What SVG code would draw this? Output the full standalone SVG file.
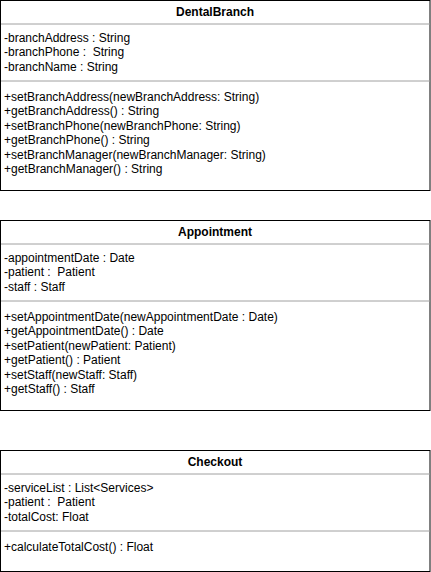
<svg xmlns="http://www.w3.org/2000/svg" width="431" height="572" viewBox="0 0 431 572">
<style>
.box{fill:#fff;stroke:#000;stroke-width:1}
.sep{stroke:#a0a0a0;stroke-width:1}
text{font-family:"Liberation Sans",Arial,sans-serif;font-size:12px;fill:#000}
.title{font-weight:bold;text-anchor:middle}
</style>
<rect width="431" height="572" fill="#fff"/>
<g id="DentalBranch">
<rect class="box" x="0.5" y="0.5" width="429.5" height="190"/>
<line class="sep" x1="1" y1="24" x2="430" y2="24"/>
<line class="sep" x1="1" y1="81" x2="430" y2="81"/>
<text class="title" x="215" y="16">DentalBranch</text>
<text x="4" y="42">-branchAddress : String</text>
<text x="4" y="56.4" xml:space="preserve">-branchPhone :  String</text>
<text x="4" y="70.8">-branchName : String</text>
<text x="4" y="101">+setBranchAddress(newBranchAddress: String)</text>
<text x="4" y="115.4">+getBranchAddress() : String</text>
<text x="4" y="129.8">+setBranchPhone(newBranchPhone: String)</text>
<text x="4" y="144.2">+getBranchPhone() : String</text>
<text x="4" y="158.6">+setBranchManager(newBranchManager: String)</text>
<text x="4" y="173">+getBranchManager() : String</text>
</g>
<g id="Appointment">
<rect class="box" x="0.5" y="220.5" width="429.5" height="190"/>
<line class="sep" x1="1" y1="244" x2="430" y2="244"/>
<line class="sep" x1="1" y1="301" x2="430" y2="301"/>
<text class="title" x="215" y="236">Appointment</text>
<text x="4" y="262">-appointmentDate : Date</text>
<text x="4" y="276.4" xml:space="preserve">-patient :  Patient</text>
<text x="4" y="290.8">-staff : Staff</text>
<text x="4" y="321">+setAppointmentDate(newAppointmentDate : Date)</text>
<text x="4" y="335.4">+getAppointmentDate() : Date</text>
<text x="4" y="349.8">+setPatient(newPatient: Patient)</text>
<text x="4" y="364.2">+getPatient() : Patient</text>
<text x="4" y="378.6">+setStaff(newStaff: Staff)</text>
<text x="4" y="393">+getStaff() : Staff</text>
</g>
<g id="Checkout">
<rect class="box" x="0.5" y="450.5" width="429.5" height="121"/>
<line class="sep" x1="1" y1="474" x2="430" y2="474"/>
<line class="sep" x1="1" y1="531" x2="430" y2="531"/>
<text class="title" x="215" y="466">Checkout</text>
<text x="4" y="492">-serviceList : List&lt;Services&gt;</text>
<text x="4" y="506.4" xml:space="preserve">-patient :  Patient</text>
<text x="4" y="520.8">-totalCost: Float</text>
<text x="4" y="551">+calculateTotalCost() : Float</text>
</g>
<g id="connectors"/>
</svg>
